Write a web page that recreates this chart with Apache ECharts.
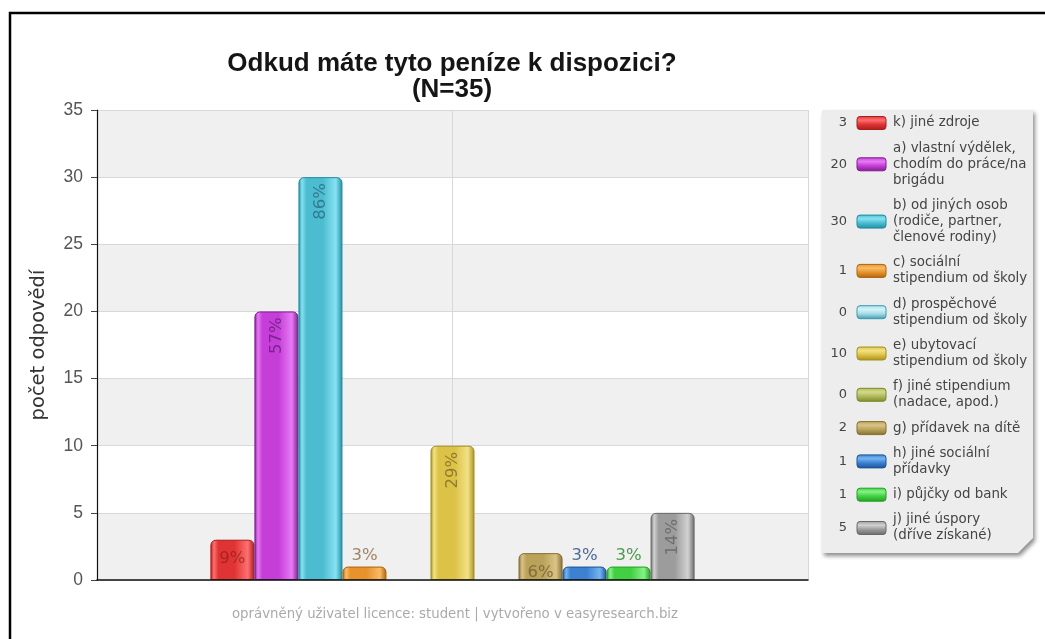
<!DOCTYPE html>
<html>
<head>
<meta charset="utf-8">
<script src="https://cdn.jsdelivr.net/npm/echarts@6/dist/echarts.min.js"></script>
<style>
  html, body { margin: 0; padding: 0; background: #fff; }
  #main { width: 1045px; height: 639px; }
</style>
</head>
<body>
<div id="main"></div>
<script>
// data
var names = [
  'k) jiné zdroje',
  'a) vlastní výdělek,\nchodím do práce/na\nbrigádu',
  'b) od jiných osob\n(rodiče, partner,\nčlenové rodiny)',
  'c) sociální\nstipendium od školy',
  'd) prospěchové\nstipendium od školy',
  'e) ubytovací\nstipendium od školy',
  'f) jiné stipendium\n(nadace, apod.)',
  'g) přídavek na dítě',
  'h) jiné sociální\npřídavky',
  'i) půjčky od bank',
  'j) jiné úspory\n(dříve získané)'
]
var counts = [3, 20, 30, 1, 0, 10, 0, 2, 1, 1, 5]
var total = 35
var yTicks = [0, 5, 10, 15, 20, 25, 30, 35]

// styles: base, light, dark, label
var baseCol = ['#e03434', '#c63ed8', '#4cbcd0', '#e8922e', '#a8dce8', '#dcc246', '#b2ba5a', '#baa25a', '#3c82d0', '#42d042', '#9c9c9c']
var lightCol = ['#ff7070', '#e67af4', '#86e2f2', '#f8bc66', '#d4f2f8', '#f2e286', '#d2da8c', '#dac486', '#74b4f2', '#86f286', '#d2d2d2']
var darkCol = ['#a81c1c', '#7e1c8e', '#1e8ca2', '#b0620e', '#3a9ab0', '#a88e1e', '#7a8a28', '#856e2e', '#1c5298', '#22a022', '#686868']
var labelCol = ['rgba(140,30,30,0.7)', 'rgba(90,30,110,0.75)', 'rgba(40,100,120,0.75)', '#a08462', '#3a8a9a', 'rgba(120,100,40,0.75)', '#7a8a28', 'rgba(110,90,50,0.75)', '#4a6a9a', '#4a9a4a', 'rgba(90,90,90,0.7)']

var font = 'Liberation Sans, Arial, sans-serif'
var wide = 'DejaVu Sans, Verdana, sans-serif'

function barFill (i) {
  return new echarts.graphic.LinearGradient(0, 0, 1, 0, [
    { offset: 0, color: darkCol[i] },
    { offset: 0.08, color: lightCol[i] },
    { offset: 0.18, color: baseCol[i] },
    { offset: 0.55, color: baseCol[i] },
    { offset: 0.85, color: lightCol[i] },
    { offset: 1, color: darkCol[i] }
  ])
}

function swatchFill (i) {
  return new echarts.graphic.LinearGradient(0, 0, 0, 1, [
    { offset: 0, color: baseCol[i] },
    { offset: 0.3, color: lightCol[i] },
    { offset: 0.6, color: baseCol[i] },
    { offset: 1, color: darkCol[i] }
  ])
}

function pct (v) {
  return Math.round(v / total * 100) + '%'
}

function labelFor (v, i) {
  var base = { show: v > 0, color: labelCol[i], fontFamily: wide, fontSize: 16.5, formatter: pct(v) }
  if (v >= 5) {
    return Object.assign(base, { position: 'insideTop', rotate: 90, align: 'right', verticalAlign: 'middle', distance: 6 })
  } else if (v >= 2) {
    return Object.assign(base, { position: 'insideTop', distance: 11 })
  }
  return Object.assign(base, { position: 'top', distance: 2 })
}

var series = names.map(function (n, i) {
  return {
    name: n,
    type: 'bar',
    barGap: '0%',
    barCategoryGap: '31.9%',
    data: [{
      value: counts[i],
      label: labelFor(counts[i], i),
      itemStyle: { borderWidth: counts[i] > 0 ? 1 : 0 }
    }],
    itemStyle: {
      color: barFill(i),
      borderColor: darkCol[i],
      borderRadius: [5, 5, 0, 0]
    }
  }
})

// legend panel drawn by hand: count, swatch, text
var lineH = 16
var itemGap = 9.3
var legendGraphics = [{
  type: 'polygon',
  shape: { points: [[822, 110], [1033, 110], [1033, 538], [1018, 553], [822, 553]] },
  style: { fill: '#ededed', shadowBlur: 4, shadowOffsetX: 2, shadowOffsetY: 3, shadowColor: 'rgba(0,0,0,0.45)' },
  z: 1
}]
var cy = 123
names.forEach(function (n, i) {
  var lines = n.split('\n').length
  if (i > 0) {
    var prev = names[i - 1].split('\n').length
    cy += (prev * lineH) / 2 + (lines * lineH) / 2 + itemGap
  }
  legendGraphics.push({
    type: 'text', x: 847, y: cy, z: 2,
    style: { text: String(counts[i]), align: 'right', verticalAlign: 'middle', fill: '#444', font: '13px ' + wide }
  })
  legendGraphics.push({
    type: 'rect', shape: { x: 857, y: cy - 6.5, width: 29, height: 13, r: 3 }, z: 2,
    style: { fill: swatchFill(i), stroke: darkCol[i], lineWidth: 1 }
  })
  legendGraphics.push({
    type: 'text', x: 893, y: cy, z: 2,
    style: { text: n, align: 'left', verticalAlign: 'middle', lineHeight: lineH, fill: '#444', font: '13.4px ' + wide }
  })
})

var chart = echarts.init(document.getElementById('main'), null, { renderer: 'canvas' })
chart.setOption({
  backgroundColor: '#fff',
  animation: false,
  title: [{
    text: 'Odkud máte tyto peníze k dispozici?\n(N=35)',
    left: 447,
    top: 46,
    textAlign: 'center',
    textStyle: { fontFamily: font, fontSize: 26, fontWeight: 'bold', color: '#151515', lineHeight: 26 }
  }, {
    text: 'oprávněný uživatel licence: student | vytvořeno v easyresearch.biz',
    left: 450,
    top: 603,
    textAlign: 'center',
    textStyle: { fontFamily: wide, fontSize: 13.3, fontWeight: 'normal', color: '#aaa' }
  }],
  grid: { left: 97, right: 237, top: 110, bottom: 59 },
  xAxis: [{
    type: 'category',
    data: [''],
    axisLine: { lineStyle: { color: '#111', width: 1.5 } },
    axisTick: { show: false },
    axisLabel: { show: false },
    z: 5
  }, {
    type: 'value',
    min: -1,
    max: 1,
    interval: 1,
    show: true,
    axisLine: { show: false },
    axisTick: { show: false },
    axisLabel: { show: false },
    splitLine: { show: true, lineStyle: { color: '#d8d8d8' } }
  }],
  yAxis: {
    type: 'value',
    min: yTicks[0],
    max: yTicks[yTicks.length - 1],
    interval: yTicks[1] - yTicks[0],
    name: 'počet odpovědí',
    nameLocation: 'middle',
    nameRotate: 90,
    nameGap: 48,
    nameTextStyle: { fontFamily: wide, fontSize: 19.5, color: '#333' },
    axisLine: { show: true, onZero: false, lineStyle: { color: '#111', width: 1.2 } },
    axisTick: { show: true, length: 6, lineStyle: { color: '#444' } },
    axisLabel: { fontFamily: font, fontSize: 17.5, color: '#555', margin: 14 },
    splitLine: { lineStyle: { color: '#d8d8d8' } },
    splitArea: { show: true, areaStyle: { color: ['#f0f0f0', '#ffffff'] } }
  },
  series: series,
  graphic: [{
    type: 'rect',
    shape: { x: 10, y: 13, width: 1060, height: 700 },
    style: { fill: null, stroke: '#000', lineWidth: 2.5 },
    z: 10
  }].concat(legendGraphics)
})
</script>
</body>
</html>
